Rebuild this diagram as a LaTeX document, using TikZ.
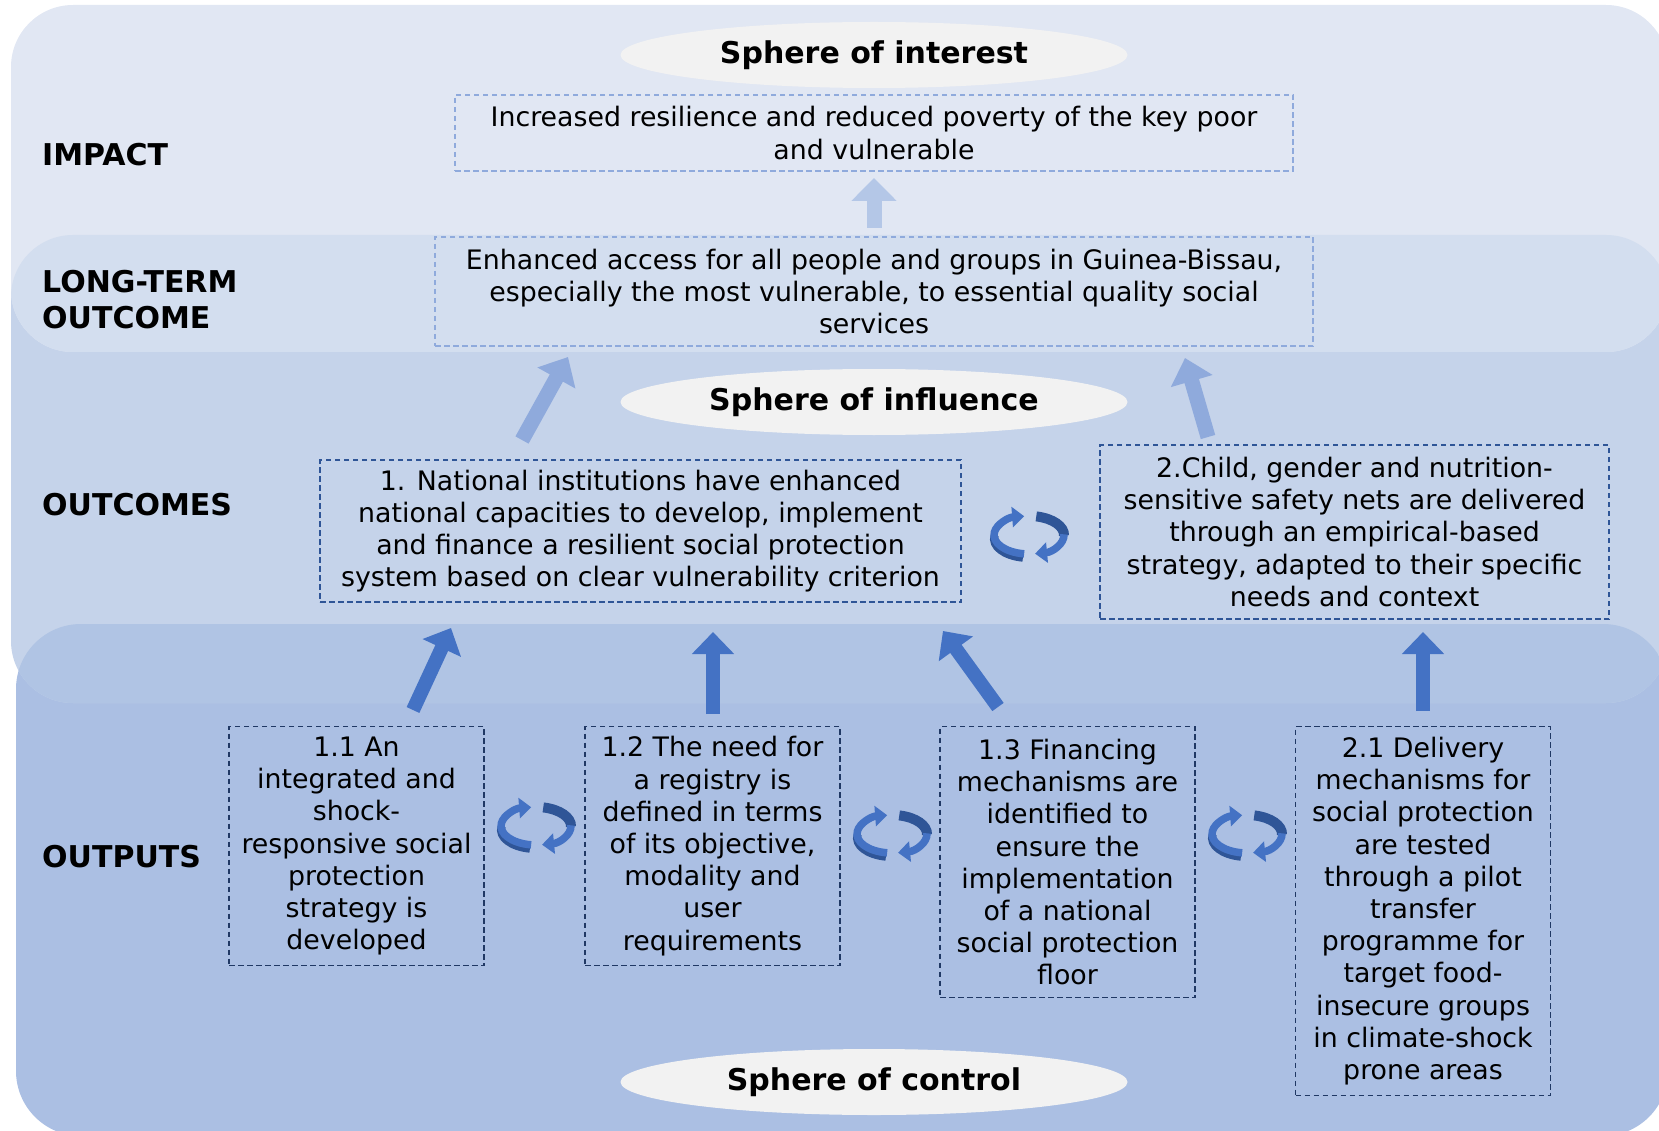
\documentclass[tikz,border=0pt]{standalone}
\usepackage{fontspec}
\setmainfont{DejaVu Sans}
\usetikzlibrary{shapes.geometric,arrows.meta}

\definecolor{bandA}{HTML}{E1E7F3}
\definecolor{bandAB}{HTML}{D3DEEF}
\definecolor{bandB}{HTML}{C5D3EA}
\definecolor{bandBC}{HTML}{B0C4E4}
\definecolor{bandC}{HTML}{ABBFE3}
\definecolor{spherefill}{HTML}{F2F2F2}
\definecolor{lightline}{HTML}{8FAADC}
\definecolor{midline}{HTML}{2F5597}
\definecolor{darkline}{HTML}{203864}
\definecolor{arrowblue}{HTML}{4472C4}
\definecolor{arrowpale}{HTML}{B4C7E7}

\newcommand{\bodyfont}{\fontsize{26.8}{32.2}\selectfont}
\newcommand{\headfont}{\fontsize{30}{36}\selectfont\bfseries}

\tikzset{
    heading/.style={anchor=west, inner sep=0pt, align=left, font=\headfont},
    spherelabel/.style={ellipse, fill=spherefill, inner sep=0pt,
        minimum width=507pt, minimum height=66pt, font=\headfont},
    dashbox/.style={dash pattern=on 5.5pt off 3.5pt, line width=1.3pt,
        align=center, inner sep=0pt, font=\bodyfont},
    topbox/.style={dashbox, draw=lightline},
    outcomebox/.style={dashbox, draw=midline},
    outputbox/.style={dashbox, draw=darkline, anchor=north, minimum width=255pt},
    palearrow/.style={draw=arrowpale, line width=15pt, -{Triangle[width=44pt,length=23pt]}},
    midarrow/.style={draw=lightline, line width=15pt, -{Triangle[width=42pt,length=24pt]}},
    lowarrow/.style={draw=arrowblue, line width=14pt, -{Triangle[width=41pt,length=22pt]}},
    cycmain/.style={draw=arrowblue, line width=7.5pt},
    cycshade/.style={draw=midline, line width=8pt},
}

% two round arrows, drawn about a centre
\newcommand{\cyclearrows}[1]{%
    \begin{scope}[shift={(#1)}]
        \draw[cycshade] ({35*cos(100)},{19*sin(100)+4}) arc[start angle=100, end angle=190, x radius=35, y radius=19];
        \draw[cycmain, -{Triangle[width=20pt,length=12pt]}] ({35*cos(98)},{19*sin(98)}) arc[start angle=98, end angle=262, x radius=35, y radius=19];
        \draw[cycshade, line width=10pt] ({35*cos(282)},{19*sin(282)}) arc[start angle=282, end angle=362, x radius=35, y radius=19];
        \draw[cycmain, -{Triangle[width=20pt,length=12pt]}] ({35*cos(358)},{19*sin(358)}) arc[start angle=358, end angle=440, x radius=35, y radius=19];
    \end{scope}}

\begin{document}
\begin{tikzpicture}[x=1pt, y=-1pt]
    \useasboundingbox (0,0) rectangle (1659,1131);

    % bands
    \fill[bandC, rounded corners=65pt] (16,624) rectangle (1668,1136);
    \fill[bandB, rounded corners=62pt] (11,235) rectangle (1668,703);
    \begin{scope}
        \clip[rounded corners=65pt] (16,624) rectangle (1668,1136);
        \fill[bandBC, rounded corners=62pt] (11,235) rectangle (1668,703);
    \end{scope}
    \fill[bandA, rounded corners=62pt] (11,5) rectangle (1668,352);
    \begin{scope}
        \clip[rounded corners=62pt] (11,5) rectangle (1668,352);
        \fill[bandAB, rounded corners=62pt] (11,235) rectangle (1668,703);
    \end{scope}

    % spheres
    \node[spherelabel] (interest) at (874,55) {Sphere of interest};
    \node[spherelabel] (influence) at (874,402) {Sphere of influence};
    \node[spherelabel] (control) at (874,1082) {Sphere of control};

    % row titles
    \node[heading] (impact) at (42,155) {IMPACT};
    \node[heading] (longterm) at (42,300) {LONG-TERM\\OUTCOME};
    \node[heading] (outcomes) at (42,505) {OUTCOMES};
    \node[heading] (outputs) at (42,857) {OUTPUTS};

    % boxes
    \node[topbox, minimum width=838pt, minimum height=76pt] (impactbox) at (874,133)
        {Increased resilience and reduced poverty of the key poor\\and vulnerable};
    \node[topbox, minimum width=878pt, minimum height=109pt] (ltbox) at (874,291.5)
        {Enhanced access for all people and groups in Guinea-Bissau,\\especially the most vulnerable, to essential quality social\\services};
    \node[outcomebox, minimum width=641pt, minimum height=142pt] (oc1) at (640.5,531)
        {1. National institutions have enhanced\\national capacities to develop, implement\\and finance a resilient social protection\\system based on clear vulnerability criterion};
    \node[outcomebox, minimum width=509pt, minimum height=174pt] (oc2) at (1354.5,532)
        {2.Child, gender and nutrition-\\sensitive safety nets are delivered\\through an empirical-based\\strategy, adapted to their specific\\needs and context};
    \node[outputbox, minimum height=239pt] (op11) at (356.5,726)
        {1.1 An\\integrated and\\shock-\\responsive social\\protection\\strategy is\\developed};
    \node[outputbox, minimum height=239pt] (op12) at (712.5,726)
        {1.2 The need for\\a registry is\\defined in terms\\of its objective,\\modality and\\user\\requirements};
    \node[outputbox, minimum height=271pt] (op13) at (1067.5,726)
        {1.3 Financing\\mechanisms are\\identified to\\ensure the\\implementation\\of a national\\social protection\\floor};
    \node[outputbox, minimum height=369pt] (op21) at (1423,726)
        {2.1 Delivery\\mechanisms for\\social protection\\are tested\\through a pilot\\transfer\\programme for\\target food-\\insecure groups\\in climate-shock\\prone areas};

    % arrow ends
    \coordinate (impS) at (874,228);
    \coordinate (impE) at (874,178);
    \coordinate (lt1S) at (522,440);
    \coordinate (lt1E) at (568,357);
    \coordinate (lt2S) at (1208,437);
    \coordinate (lt2E) at (1185,358);
    \coordinate (o11S) at (413,710);
    \coordinate (o11E) at (451,628);
    \coordinate (o12S) at (713,714);
    \coordinate (o12E) at (713,632);
    \coordinate (o13S) at (998,707);
    \coordinate (o13E) at (943,631);
    \coordinate (o21S) at (1423,711);
    \coordinate (o21E) at (1423,632);

    \draw[palearrow] (impS) -- (impE);
    \draw[midarrow] (lt1S) -- (lt1E);
    \draw[midarrow] (lt2S) -- (lt2E);
    \draw[lowarrow] (o11S) -- (o11E);
    \draw[lowarrow] (o12S) -- (o12E);
    \draw[lowarrow] (o13S) -- (o13E);
    \draw[lowarrow] (o21S) -- (o21E);

    % cycles
    \cyclearrows{1029,535}
    \cyclearrows{536,826}
    \cyclearrows{892,834}
    \cyclearrows{1247,834}
\end{tikzpicture}
\end{document}
